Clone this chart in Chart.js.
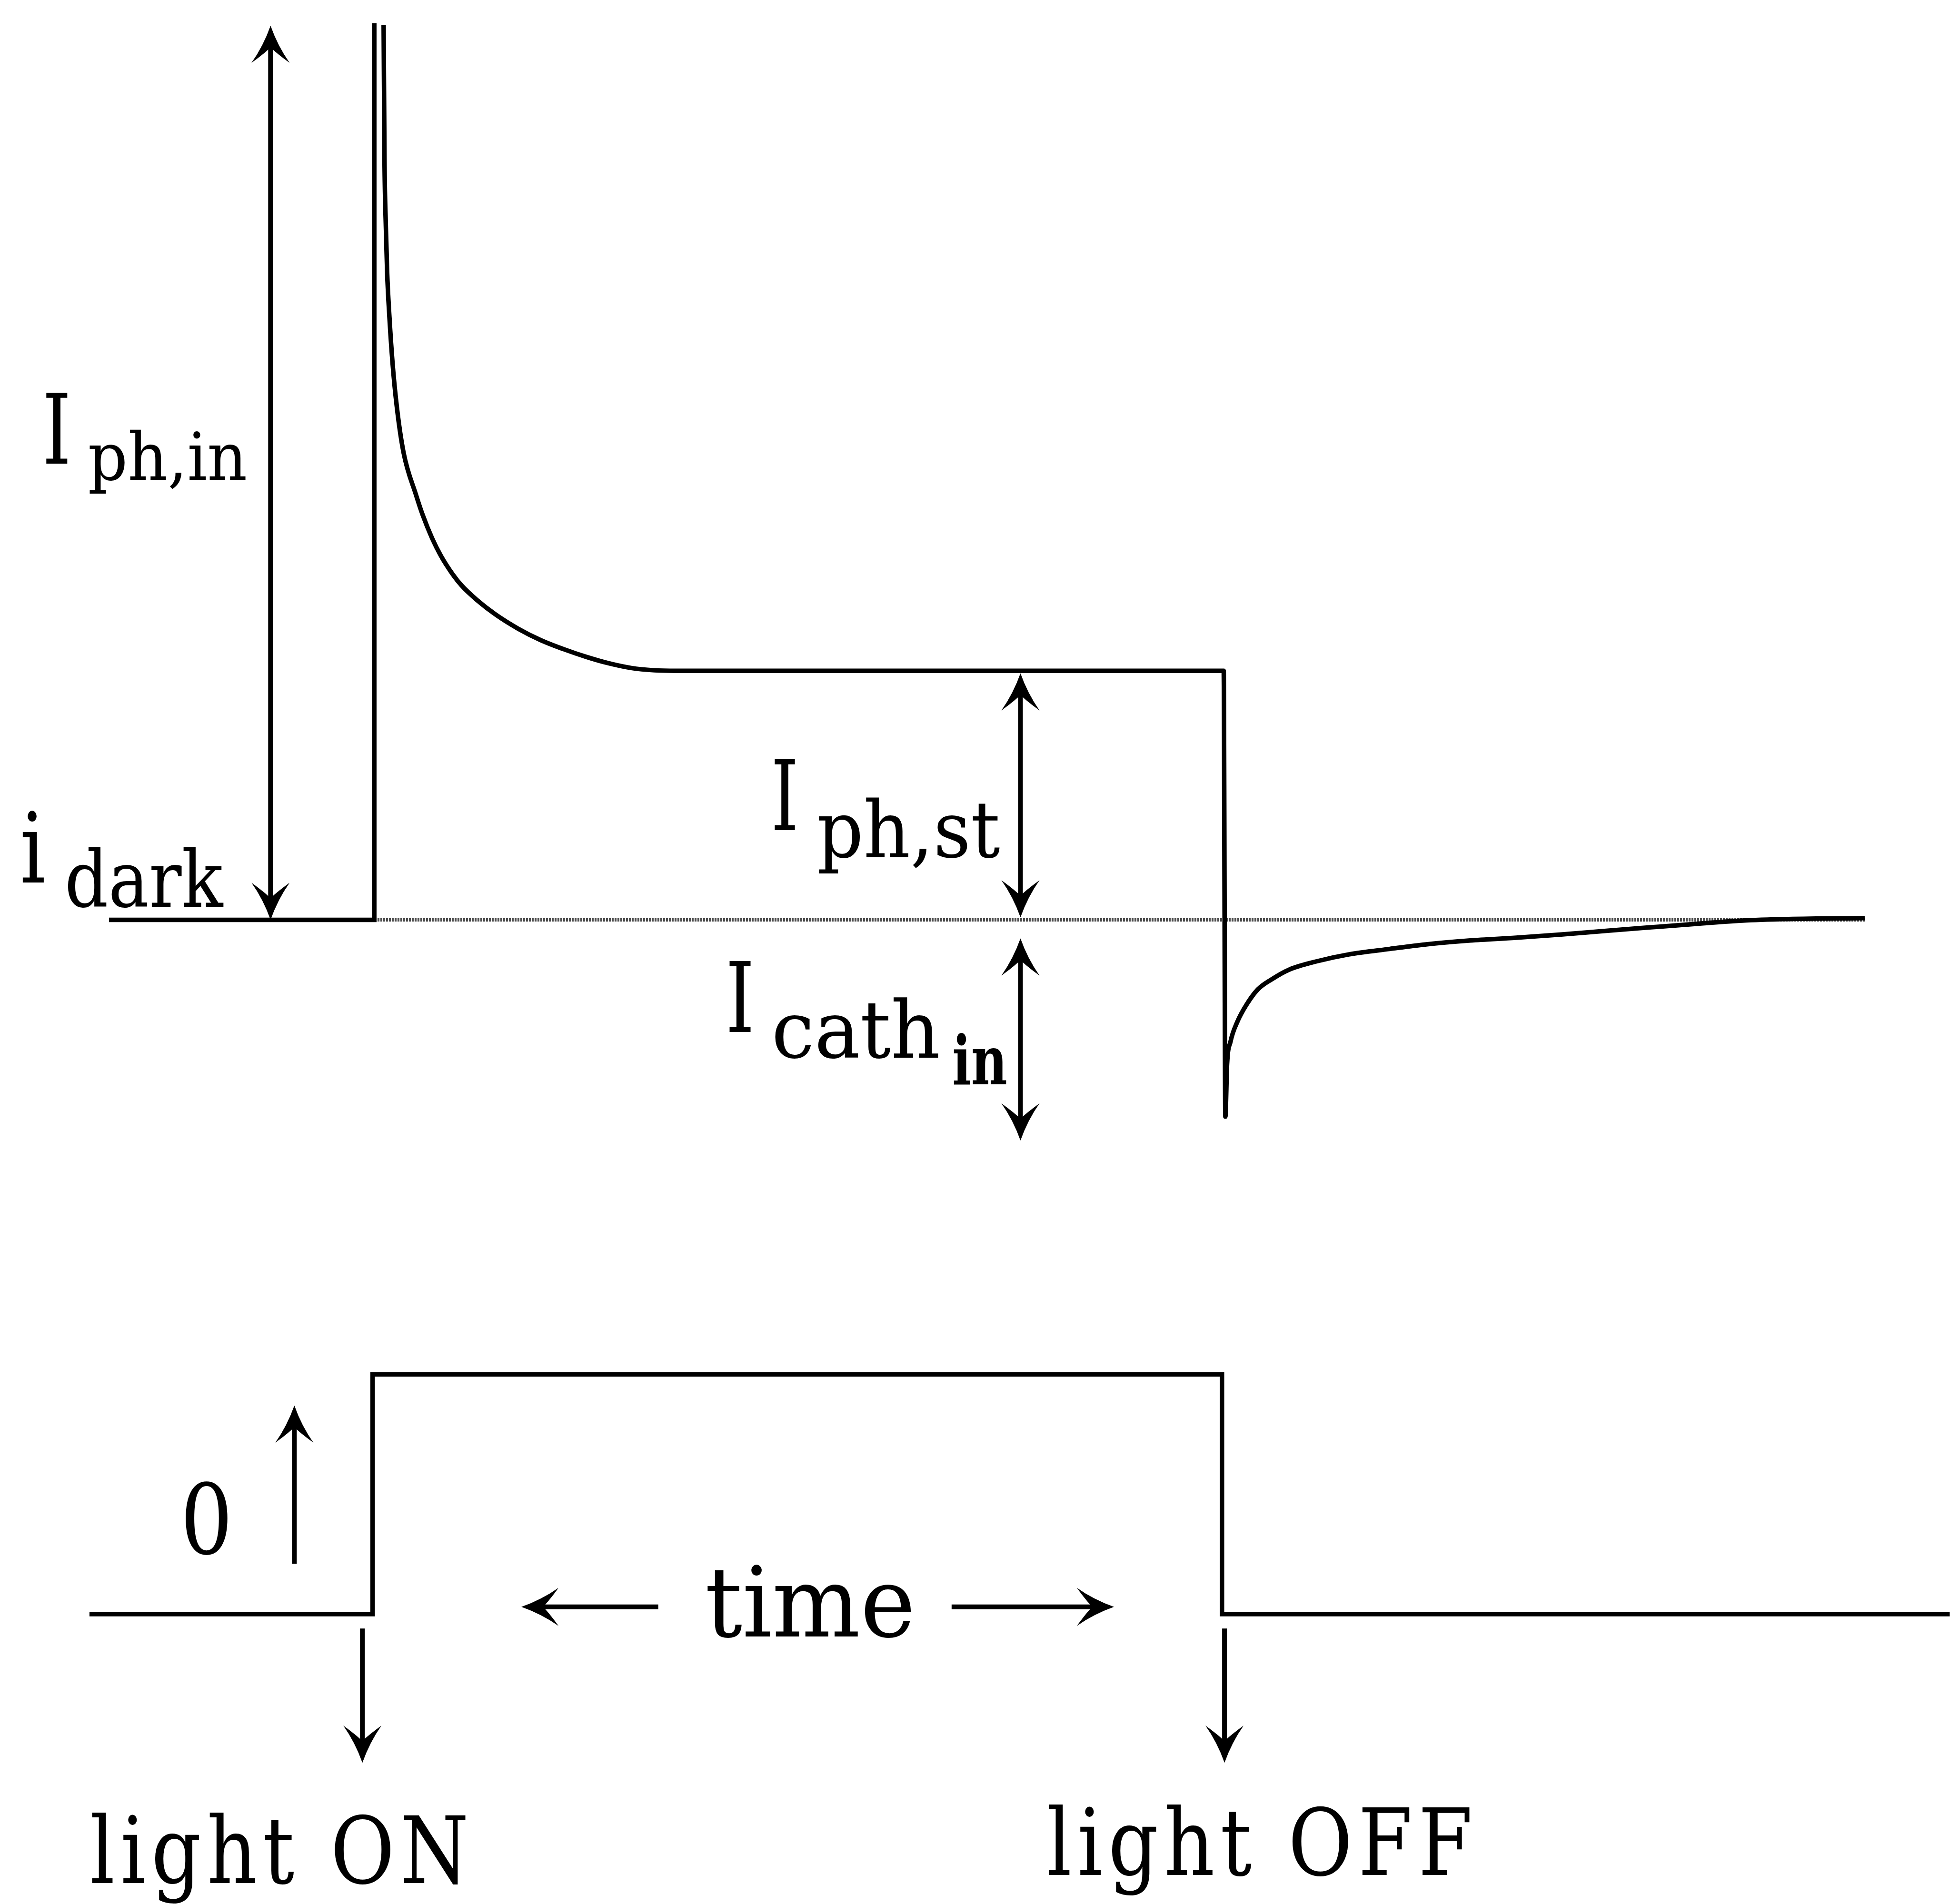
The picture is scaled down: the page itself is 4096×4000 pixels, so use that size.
<!DOCTYPE html>
<html>
<head>
<meta charset="utf-8">
<script src="https://cdn.jsdelivr.net/npm/chart.js@4"></script>
<style>
  html, body { margin: 0; padding: 0; background: #fff; }
  #wrap { width: 4096px; height: 4000px; position: relative; }
</style>
</head>
<body>
<div id="wrap"><canvas id="c"></canvas></div>
<script>
// Time in arbitrary units: light switched on at t = 0, off at t = 10.
// Photocurrent in units of the steady-state value (i_dark = 0, I_ph,st = 1).

// dark current, then the rising edge of the initial spike
const darkT = [-3.12, 0.00, 0.00];
const darkI = [0.00, 0.00, 3.60];

// decay of the spike to the steady state, and the drop at light OFF
const photoT = [0.11, 0.12, 0.136, 0.151, 0.178, 0.214, 0.266, 0.345, 0.491, 0.569, 0.679, 0.783,
                0.919, 1.023, 1.211, 1.426, 1.692, 1.958, 2.225, 2.491, 2.757, 3.023, 3.290, 3.556, 9.99];
const photoI = [3.594, 3.057, 2.784, 2.602, 2.421, 2.239, 2.057, 1.875, 1.706, 1.626, 1.533, 1.462,
                1.389, 1.344, 1.283, 1.226, 1.169, 1.123, 1.087, 1.056, 1.030, 1.011, 1.002, 1.000, 1.000];

// cathodic transient after light OFF, relaxing back to i_dark
const cathT = [10.01, 10.03, 10.07, 10.15, 10.26, 10.39, 10.55, 10.76, 11.08, 11.46, 11.94,
               12.36, 12.89, 13.43, 13.96, 14.49, 15.02, 15.56, 16.09, 16.63, 17.53];
const cathI = [-0.79, -0.58, -0.49, -0.41, -0.34, -0.28, -0.24, -0.20, -0.167, -0.139, -0.117,
               -0.099, -0.083, -0.072, -0.059, -0.044, -0.030, -0.016, -0.003, 0.003, 0.007];

// i_dark reference level
const refT = [-3.12, 17.53];
const refI = [0, 0];

// light intensity (0 = off, 1 = on)
const lightT = [-3.35, -0.02, -0.02, 9.97, 9.97, 18.53];
const lightL = [0, 0, 1, 1, 0, 0];

// arrows: start and end in data units, axis of the value, double-headed or not
const arrowX0   = [-1.22, 7.60, 7.60, -0.94, -0.14, 10.00, 3.34, 6.79];
const arrowY0   = [0.00, 0.01, -0.075, 0.21, -0.06, -0.06, 0.03, 0.03];
const arrowX1   = [-1.22, 7.60, 7.60, -0.94, -0.14, 10.00, 1.73, 8.70];
const arrowY1   = [3.59, 0.99, -0.886, 0.87, -0.62, -0.62, 0.03, 0.03];
const arrowAxis = ['y', 'y', 'y', 'y2', 'y2', 'y2', 'y2', 'y2'];
const arrowBoth = [true, true, true, false, false, false, false, false];

// labels: text, anchor (left of ink, baseline) in data units, axis
const labelText = ['I', 'ph,in', 'i', 'dark', 'I', 'ph,st', 'I', 'cath', 'in',
                   '0', 'time', 'light ON', 'light OFF'];
const labelT    = [-3.859, -3.352, -4.136, -3.603, 4.710, 5.227, 4.178, 4.715, 6.815,
                   -2.219, 3.916, -3.321, 7.932];
const labelV    = [1.832, 1.766, 0.150, 0.053, 0.360, 0.251, -0.451, -0.553, -0.660,
                   0.252, -0.094, -1.122, -1.089];
const labelAxis = ['y', 'y', 'y', 'y', 'y', 'y', 'y', 'y', 'y', 'y2', 'y2', 'y2', 'y2'];

const zip = (xs, ys) => xs.map((x, i) => ({ x: x, y: ys[i] }));

// label typography (size in px, ink width in px, weight, extra letter spacing)
const labelSize    = [204, 138, 204, 164, 204, 164, 204, 166, 142, 204, 204, 194, 194];
const labelWidth   = [44.7, 329, 44.7, 327, 42.9, 380, 44.7, 343, 110, 88.5, 428, 785, 884];
const labelWeight  = ['normal', 'normal', 'normal', 'normal', 'normal', 'normal', 'normal',
                      'normal', 'bold', 'normal', 'normal', 'normal', 'normal'];
const labelSpacing = [0, 0, 0, 0, 0, 0, 0, 0, 0, 0, 0, 14, 14];

// filled, slightly barbed arrow head with its tip at (tx, ty), pointing along (dx, dy)
function drawHead(ctx, tx, ty, dx, dy) {
  const L = 78, W = 40;
  const px = -dy, py = dx;
  const bx = tx - dx * L, by = ty - dy * L;
  const c1x = bx + px * W, c1y = by + py * W;
  const c2x = bx - px * W, c2y = by - py * W;
  const nx = tx - dx * L * 0.58, ny = ty - dy * L * 0.58;
  ctx.beginPath();
  ctx.moveTo(tx, ty);
  ctx.quadraticCurveTo(tx - dx * L * 0.55 + px * W * 0.38, ty - dy * L * 0.55 + py * W * 0.38, c1x, c1y);
  ctx.quadraticCurveTo(tx - dx * L * 0.72 + px * W * 0.25, ty - dy * L * 0.72 + py * W * 0.25, nx, ny);
  ctx.quadraticCurveTo(tx - dx * L * 0.72 - px * W * 0.25, ty - dy * L * 0.72 - py * W * 0.25, c2x, c2y);
  ctx.quadraticCurveTo(tx - dx * L * 0.55 - px * W * 0.38, ty - dy * L * 0.55 - py * W * 0.38, tx, ty);
  ctx.closePath();
  ctx.fill();
}

const annotate = {
  id: 'annotate',
  afterDatasetsDraw(chart) {
    const ctx = chart.ctx;
    const sx = chart.scales.x;
    ctx.save();
    ctx.strokeStyle = '#000';
    ctx.fillStyle = '#000';
    ctx.lineWidth = 10;
    ctx.lineCap = 'butt';
    for (let i = 0; i < arrowX0.length; i++) {
      const sy = chart.scales[arrowAxis[i]];
      const x0 = sx.getPixelForValue(arrowX0[i]), y0 = sy.getPixelForValue(arrowY0[i]);
      const x1 = sx.getPixelForValue(arrowX1[i]), y1 = sy.getPixelForValue(arrowY1[i]);
      const len = Math.hypot(x1 - x0, y1 - y0);
      const dx = (x1 - x0) / len, dy = (y1 - y0) / len;
      ctx.beginPath();
      ctx.moveTo(x0 + (arrowBoth[i] ? dx * 40 : 0), y0 + (arrowBoth[i] ? dy * 40 : 0));
      ctx.lineTo(x1 - dx * 40, y1 - dy * 40);
      ctx.stroke();
      drawHead(ctx, x1, y1, dx, dy);
      if (arrowBoth[i]) drawHead(ctx, x0, y0, -dx, -dy);
    }
    ctx.textAlign = 'left';
    ctx.textBaseline = 'alphabetic';
    for (let i = 0; i < labelText.length; i++) {
      const sy = chart.scales[labelAxis[i]];
      const px = sx.getPixelForValue(labelT[i]);
      const py = sy.getPixelForValue(labelV[i]);
      ctx.font = labelWeight[i] + ' ' + labelSize[i] + 'px "DejaVu Serif"';
      ctx.letterSpacing = labelSpacing[i] + 'px';
      const m = ctx.measureText(labelText[i]);
      const ink = m.actualBoundingBoxLeft + m.actualBoundingBoxRight;
      const k = labelWidth[i] / ink;
      ctx.save();
      ctx.translate(px, py);
      ctx.scale(k, 1);
      ctx.fillText(labelText[i], m.actualBoundingBoxLeft, 0);
      ctx.restore();
    }
    ctx.letterSpacing = '0px';
    ctx.restore();
  }
};

const traceStyle = {
  showLine: true, pointRadius: 0, borderColor: '#000', borderWidth: 9.5,
  tension: 0, borderJoinStyle: 'miter', borderCapStyle: 'butt', fill: false
};

new Chart(document.getElementById('c'), {
  type: 'scatter',
  data: {
    datasets: [
      Object.assign({}, traceStyle, { data: zip(refT, refI), borderWidth: 7, borderDash: [4, 2],
        borderColor: 'rgba(0,0,0,0.7)', yAxisID: 'y' }),
      Object.assign({}, traceStyle, { data: zip(darkT, darkI), yAxisID: 'y' }),
      Object.assign({}, traceStyle, { data: zip(photoT.concat(cathT), photoI.concat(cathI)),
        cubicInterpolationMode: 'monotone', yAxisID: 'y' }),
      Object.assign({}, traceStyle, { data: zip(lightT, lightL), yAxisID: 'y2' })
    ]
  },
  options: {
    responsive: true,
    maintainAspectRatio: false,
    devicePixelRatio: 1,
    animation: false,
    events: [],
    layout: { padding: 0 },
    plugins: { legend: { display: false }, tooltip: { enabled: false } },
    scales: {
      x:  { type: 'linear', min: -4.4021, max: 18.5326, display: false },
      y:  { type: 'linear', min: -3.9519, max: 3.6934, display: false },
      y2: { type: 'linear', min: -1.2093, max: 6.7333, display: false }
    }
  },
  plugins: [annotate]
});
</script>
</body>
</html>
